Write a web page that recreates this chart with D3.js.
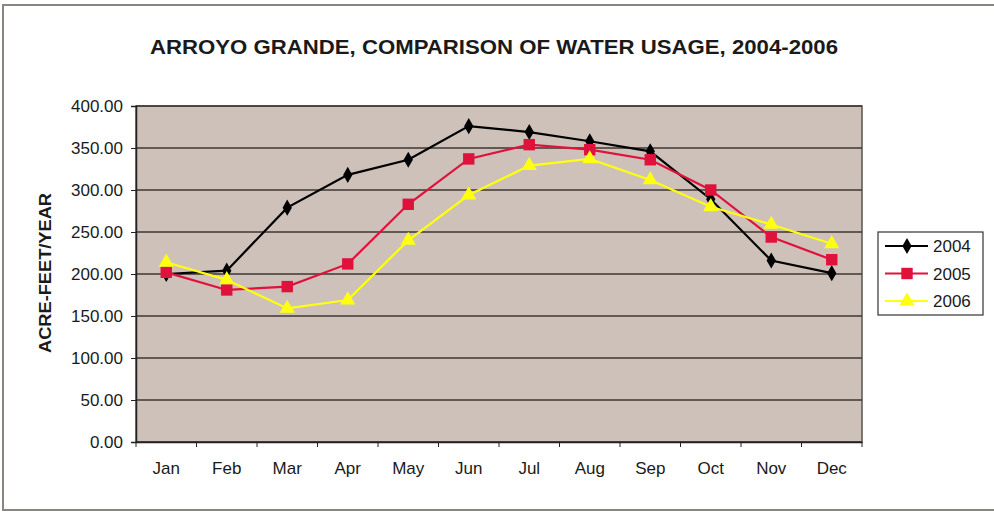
<!DOCTYPE html>
<html>
<head>
<meta charset="utf-8">
<script src="https://cdn.jsdelivr.net/npm/d3@7"></script>
<style>
  body { margin: 0; background: #fff; }
  text { font-family: "Liberation Sans", Arial, sans-serif; fill: #1a1a1a; }
</style>
</head>
<body>
<div id="chart"></div>
<script>
var width = 994, height = 519;

// data
var months = ["Jan", "Feb", "Mar", "Apr", "May", "Jun", "Jul", "Aug", "Sep", "Oct", "Nov", "Dec"];
var years = ["2004", "2005", "2006"];
var usage2004 = [200, 204, 279, 318, 336, 376, 369, 358, 346, 289, 216, 201];
var usage2005 = [202, 181, 185, 212, 283, 337, 354, 348, 336, 300, 244, 217];
var usage2006 = [214, 193, 159, 169, 240, 294, 329, 337, 312, 280, 259, 236];
var yTicks = [0, 50, 100, 150, 200, 250, 300, 350, 400];

var series = [
  { name: years[0], values: usage2004, color: "#000000", shape: d3.symbolDiamond, size: 75 },
  { name: years[1], values: usage2005, color: "#e0123c", shape: d3.symbolSquare, size: 130 },
  { name: years[2], values: usage2006, color: "#ffff10", shape: d3.symbolTriangle, size: 100 }
];

var svg = d3.select("#chart").append("svg")
    .attr("width", width)
    .attr("height", height);

// outer frame
svg.append("rect")
    .attr("x", 3).attr("y", 5)
    .attr("width", 994).attr("height", 505)
    .attr("fill", "#fff")
    .attr("stroke", "#8a8580")
    .attr("stroke-width", 2);

var plot = { left: 136, right: 862, top: 106, bottom: 442 };

var x = d3.scaleBand()
    .domain(months)
    .range([plot.left, plot.right]);

var y = d3.scaleLinear()
    .domain([0, 400])
    .range([plot.bottom, plot.top]);

// title
svg.append("text")
    .attr("x", 494).attr("y", 54)
    .attr("text-anchor", "middle")
    .style("font-weight", "bold")
    .style("font-size", "20px")
    .attr("textLength", 688)
    .attr("lengthAdjust", "spacingAndGlyphs")
    .text("ARROYO GRANDE, COMPARISON OF WATER USAGE, 2004-2006");

// plot background
svg.append("rect")
    .attr("x", plot.left).attr("y", plot.top)
    .attr("width", plot.right - plot.left)
    .attr("height", plot.bottom - plot.top)
    .attr("fill", "#cdc1b9")
    .attr("stroke", "#5a534d")
    .attr("stroke-width", 1.5);

// gridlines
svg.append("g")
    .selectAll("line")
    .data(yTicks)
    .enter().append("line")
    .attr("x1", plot.left).attr("x2", plot.right)
    .attr("y1", d => y(d)).attr("y2", d => y(d))
    .attr("stroke", "#3d3630")
    .attr("stroke-width", 1.6);

// y axis
var yAxis = svg.append("g")
    .attr("transform", "translate(" + plot.left + ",0)")
    .call(d3.axisLeft(y).tickValues(yTicks).tickFormat(d3.format(".2f")).tickSize(5).tickPadding(8));
yAxis.select(".domain").attr("stroke", "#222").attr("stroke-width", 1.5);
yAxis.selectAll(".tick line").attr("stroke", "#222");
yAxis.selectAll("text").style("font-size", "17px").attr("fill", "#1a1a1a");

// x axis
var xAxis = svg.append("g")
    .attr("transform", "translate(0," + plot.bottom + ")")
    .call(d3.axisBottom(x).tickSize(0).tickPadding(20));
xAxis.select(".domain").attr("stroke", "#222").attr("stroke-width", 1.5);
xAxis.selectAll("text").style("font-size", "17px").attr("fill", "#1a1a1a");
// category boundary ticks
svg.append("g")
    .selectAll("line")
    .data(months.concat(["end"]))
    .enter().append("line")
    .attr("x1", (d, i) => plot.left + i * x.step())
    .attr("x2", (d, i) => plot.left + i * x.step())
    .attr("y1", plot.bottom).attr("y2", plot.bottom + 5)
    .attr("stroke", "#222");

// y title
svg.append("text")
    .attr("transform", "translate(51,273) rotate(-90)")
    .attr("text-anchor", "middle")
    .style("font-weight", "bold")
    .style("font-size", "16px")
    .attr("textLength", 160)
    .attr("lengthAdjust", "spacingAndGlyphs")
    .text("ACRE-FEET/YEAR");

var line = d3.line()
    .x((d, i) => x(months[i]) + x.bandwidth() / 2)
    .y(d => y(d));

var g = svg.append("g");
series.forEach(function (s) {
  g.append("path")
      .datum(s.values)
      .attr("d", line)
      .attr("fill", "none")
      .attr("stroke", s.color)
      .attr("stroke-width", 2.2);
  g.selectAll(".pt" + s.name)
      .data(s.values)
      .enter().append("path")
      .attr("transform", (d, i) => "translate(" + (x(months[i]) + x.bandwidth() / 2) + "," + y(d) + ")")
      .attr("d", d3.symbol().type(s.shape).size(s.size))
      .attr("fill", s.color);
});

// legend
var legend = svg.append("g");
legend.append("rect")
    .attr("x", 878).attr("y", 232)
    .attr("width", 105).attr("height", 83)
    .attr("fill", "#fff")
    .attr("stroke", "#333")
    .attr("stroke-width", 1.2);
var items = legend.selectAll(".item")
    .data(series)
    .enter().append("g")
    .attr("transform", (d, i) => "translate(0," + (246 + i * 27.5) + ")");
items.append("line")
    .attr("x1", 885).attr("x2", 928)
    .attr("stroke", d => d.color)
    .attr("stroke-width", 2.2);
items.append("path")
    .attr("transform", "translate(907,0)")
    .attr("d", d => d3.symbol().type(d.shape).size(d.size)())
    .attr("fill", d => d.color);
items.append("text")
    .attr("x", 933).attr("y", 6)
    .style("font-size", "17px")
    .text(d => d.name);
</script>
</body>
</html>
